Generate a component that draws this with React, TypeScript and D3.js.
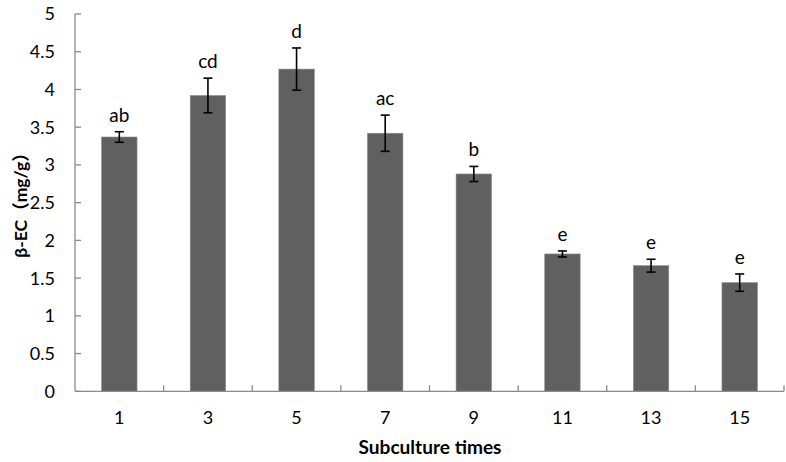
import React from "react";
import * as d3 from "d3";

const categories = ["1", "3", "5", "7", "9", "11", "13", "15"];
const values = [3.37, 3.92, 4.27, 3.42, 2.88, 1.82, 1.665, 1.44];
const errors = [0.07, 0.23, 0.28, 0.24, 0.1, 0.04, 0.085, 0.115];
const letters = ["ab", "cd", "d", "ac", "b", "e", "e", "e"];
const yTicks = [0, 0.5, 1, 1.5, 2, 2.5, 3, 3.5, 4, 4.5, 5];

const W = 786;
const H = 462;
const left = 75;
const right = 784;
const top = 14;
const bottom = 391.3;
const font = "Lato, 'Open Sans', 'Liberation Sans', sans-serif";
const cjk = "'Noto Sans CJK SC', sans-serif";
const axisColor = "#8a8a8a";

export default function App() {
  const x = d3.scaleBand<string>().domain(categories).range([left, right]).paddingInner(0).paddingOuter(0);
  const y = d3.scaleLinear().domain([0, 5]).range([bottom, top]);
  const bw = x.bandwidth() * 0.4;
  const capW = 9;
  return (
    <svg width={W} height={H} style={{ position: "absolute", left: 0, top: 0 }}>
      <rect width={W} height={H} fill="#fff" />
      {categories.map((c, i) => {
        const cx = x(c)! + x.bandwidth() / 2;
        const v = values[i];
        const e = errors[i];
        return (
          <g key={c}>
            <rect x={cx - bw / 2} y={y(v)} width={bw} height={bottom - y(v)} fill="#606060" stroke="#8c8c8c" strokeWidth={0.6} />
            <line x1={cx} x2={cx} y1={y(v + e)} y2={y(v - e)} stroke="#000" strokeWidth={1.6} />
            <line x1={cx - capW / 2} x2={cx + capW / 2} y1={y(v + e)} y2={y(v + e)} stroke="#000" strokeWidth={1.6} />
            <line x1={cx - capW / 2} x2={cx + capW / 2} y1={y(v - e)} y2={y(v - e)} stroke="#000" strokeWidth={1.6} />
            <text x={cx} y={y(v + e) - 10} textAnchor="middle" fontFamily={font} fontSize={19} fill="#000">{letters[i]}</text>
            <text x={cx} y={424} textAnchor="middle" fontFamily={font} fontSize={18} fill="#000">{c}</text>
          </g>
        );
      })}
      <line x1={left} x2={left} y1={top} y2={bottom} stroke={axisColor} strokeWidth={1.3} />
      <line x1={left} x2={right} y1={bottom} y2={bottom} stroke={axisColor} strokeWidth={1.3} />
      {yTicks.map((t) => (
        <g key={t}>
          <line x1={left} x2={left + 6} y1={y(t)} y2={y(t)} stroke={axisColor} strokeWidth={1.3} />
          <text x={55} y={y(t)} dy="0.36em" textAnchor="end" fontFamily={font} fontSize={18} fill="#000">{t}</text>
        </g>
      ))}
      {categories.map((c) => (
        <line key={"xt" + c} x1={x(c)! + x.bandwidth()} x2={x(c)! + x.bandwidth()} y1={bottom} y2={bottom - 6} stroke={axisColor} strokeWidth={1.3} />
      ))}
      <text x={430} y={454} textAnchor="middle" fontFamily={font} fontSize={18} fontWeight="bold" fill="#000" textLength={143} lengthAdjust="spacingAndGlyphs">Subculture times</text>
      <text transform={`translate(27, 201) rotate(-90)`} textAnchor="middle" fontFamily={font} fontSize={17.5} fontWeight="bold" fill="#000">
        β-EC<tspan fontFamily={cjk}>（</tspan>mg/g<tspan fontFamily={cjk}>）</tspan>
      </text>
    </svg>
  );
}
